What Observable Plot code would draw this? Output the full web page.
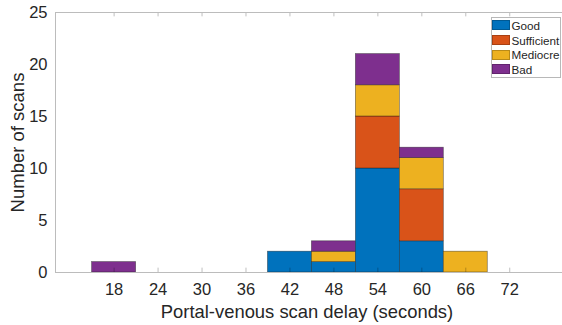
<!DOCTYPE html>
<html>
<head>
<meta charset="utf-8">
<script src="https://cdn.jsdelivr.net/npm/d3@7"></script>
<script src="https://cdn.jsdelivr.net/npm/@observablehq/plot@0.6"></script>
<style>
  body { margin: 0; background: #fff; font-family: "Liberation Sans", Arial, Helvetica, sans-serif; }
  #chart { position: relative; width: 562px; height: 325px; }
  .legend { position: absolute; left: 491px; top: 17px; width: 68px; border: 1px solid #b8b8b8; background: #fff;
            font-size: 11.7px; color: #262626; }
  .legend .row { display: flex; align-items: center; height: 14.7px; }
  .legend .sw { width: 18px; height: 10px; margin-right: 1.5px; box-sizing: border-box; border: 1px solid rgba(0,0,0,0.22); }
</style>
</head>
<body>
<div id="chart"></div>
<script>
// Scan counts per 6-second bin of portal-venous delay, split by image quality
const binCenters = [18, 42, 48, 54, 60, 66];
const binWidth = 6;
const grades = ["Good", "Sufficient", "Mediocre", "Bad"];
const gradeColors = ["#0072BD", "#D95319", "#EDB120", "#7E2F8E"];
const good       = [0, 2, 1, 10, 3, 0];
const sufficient = [0, 0, 0,  5, 5, 0];
const mediocre   = [0, 0, 1,  3, 3, 2];
const bad        = [1, 0, 1,  3, 1, 0];
const xTicks = [18, 24, 30, 36, 42, 48, 54, 60, 66, 72];
const yTicks = [0, 5, 10, 15, 20, 25];

// Stack the quality groups inside each bin
const series = [good, sufficient, mediocre, bad];
const rows = [];
binCenters.forEach((c, i) => {
  let base = 0;
  series.forEach((s, k) => {
    if (s[i] > 0) rows.push({lo: c - binWidth / 2, hi: c + binWidth / 2, y1: base, y2: base + s[i], grade: grades[k]});
    base += s[i];
  });
});

const font = '"Liberation Sans", Arial, Helvetica, sans-serif';
const plot = Plot.plot({
  width: 562, height: 325,
  marginLeft: 55, marginRight: 0, marginTop: 12, marginBottom: 53,
  style: {fontFamily: font, fontSize: "16.5px", color: "#262626", background: "#fff", overflow: "visible"},
  x: {domain: [10, 79.2]},
  y: {domain: [0, 25]},
  color: {domain: grades, range: gradeColors},
  marks: [
    Plot.rect(rows, {x1: "lo", x2: "hi", y1: "y1", y2: "y2", fill: "grade",
                     stroke: "#1a1a1a", strokeOpacity: 0.55, strokeWidth: 0.7}),
    // inward tick marks on bottom and top edges
    Plot.ruleX(xTicks, {y1: 0, y2: 0.42, stroke: "#000", strokeOpacity: 0.25}),
    Plot.ruleX(xTicks, {y1: 25, y2: 24.58, stroke: "#000", strokeOpacity: 0.25}),
    Plot.ruleY([0, 25], {stroke: "#bcbcbc"}),
    Plot.ruleX([10], {stroke: "#bcbcbc"}),
    Plot.axisX(xTicks, {tickSize: 0, tickPadding: 11, fontSize: 16.5, label: null}),
    Plot.axisY(yTicks, {tickSize: 0, tickPadding: 8, fontSize: 16.5, label: null}),
    Plot.text(["Number of scans"], {frameAnchor: "left", rotate: -90, dx: -37,
                                    textAnchor: "middle", lineAnchor: "middle", fontSize: 18.5, fill: "#262626"}),
    Plot.text(["Portal-venous scan delay (seconds)"], {frameAnchor: "bottom", dy: 40, dx: -2,
                                    textAnchor: "middle", lineAnchor: "middle", fontSize: 18.4, fill: "#262626"})
  ]
});

const chart = document.getElementById("chart");
chart.appendChild(plot);

// Legend box in the upper-right corner of the axes
const legend = document.createElement("div");
legend.className = "legend";
grades.forEach((g, i) => {
  const row = document.createElement("div");
  row.className = "row";
  const sw = document.createElement("span");
  sw.className = "sw";
  sw.style.background = gradeColors[i];
  const label = document.createElement("span");
  label.textContent = g;
  row.appendChild(sw);
  row.appendChild(label);
  legend.appendChild(row);
});
chart.appendChild(legend);
</script>
</body>
</html>
